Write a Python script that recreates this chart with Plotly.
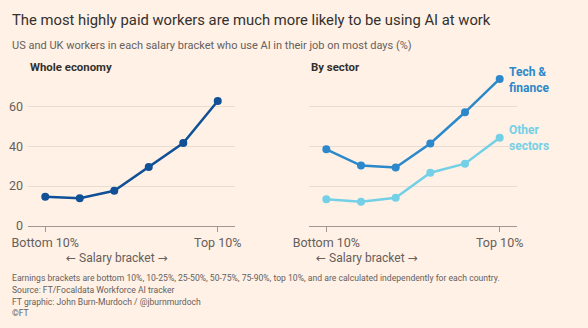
import plotly.graph_objects as go

# Salary brackets, bottom to top
brackets = ["Bottom 10%", "10-25%", "25-50%", "50-75%", "75-90%", "Top 10%"]
tick_labels = ["Bottom 10%", "Top 10%"]

# Share of workers using AI on most days (%)
whole_economy = [14.6, 13.9, 17.6, 29.6, 41.7, 62.9]
tech_finance = [38.5, 30.3, 29.3, 41.5, 57.2, 74.0]
other_sectors = [13.3, 12.1, 14.1, 26.7, 31.3, 44.4]

BG = "#FFF1E5"
DARK = "#0F5096"
TECH = "#2B88CA"
OTHER = "#74D0E6"
GREY = "#66605C"
INK = "#33302E"
FONT = "Roboto"

W, H = 588, 328

def px(x):
    return x / W

def py(y):
    return 1 - y / H

fig = go.Figure()

xs = list(range(len(brackets)))

fig.add_trace(go.Scatter(x=xs, y=whole_economy, mode="lines+markers",
                         line=dict(color=DARK, width=2.5),
                         marker=dict(size=8, color=DARK),
                         xaxis="x", yaxis="y", cliponaxis=False,
                         showlegend=False, hoverinfo="skip"))
fig.add_trace(go.Scatter(x=xs, y=tech_finance, mode="lines+markers",
                         line=dict(color=TECH, width=2.5),
                         marker=dict(size=8, color=TECH),
                         xaxis="x2", yaxis="y2", cliponaxis=False,
                         showlegend=False, hoverinfo="skip"))
fig.add_trace(go.Scatter(x=xs, y=other_sectors, mode="lines+markers",
                         line=dict(color=OTHER, width=2.5),
                         marker=dict(size=8, color=OTHER),
                         xaxis="x2", yaxis="y2", cliponaxis=False,
                         showlegend=False, hoverinfo="skip"))

y_bottom = py(225.7)
y_top = py(75)
yrange = [0, 76]

xaxis_common = dict(
    range=[-0.5, 5.5], showgrid=False, zeroline=False,
    showline=True, linecolor="#A09890", linewidth=1,
    tickmode="array", tickvals=[0, 5], ticktext=tick_labels,
    ticks="outside", ticklen=5, tickcolor="#A09890",
    tickfont=dict(family=FONT, size=12.5, color=GREY),
    fixedrange=True, automargin=False,
)
yaxis_common = dict(
    range=yrange, tickvals=[0, 20, 40, 60],
    showgrid=True, gridcolor="#E9DCD1", gridwidth=1,
    zeroline=False, showline=False, ticks="",
    tickfont=dict(family=FONT, size=12.5, color=GREY),
    domain=[y_bottom, y_top], fixedrange=True, automargin=False,
)

fig.update_layout(
    width=W, height=H,
    margin=dict(l=0, r=0, t=0, b=0),
    paper_bgcolor=BG, plot_bgcolor=BG,
    xaxis=dict(domain=[px(28), px(235)], anchor="y", **xaxis_common),
    yaxis=dict(anchor="x", showticklabels=True, ticklabelstandoff=4, **yaxis_common),
    xaxis2=dict(domain=[px(309), px(517)], anchor="y2", **xaxis_common),
    yaxis2=dict(anchor="x2", showticklabels=False, **yaxis_common),
)

def text(x, y, s, size, color, xanchor="left", bold=False):
    fig.add_annotation(
        x=px(x), y=py(y), xref="paper", yref="paper",
        text=f"<b>{s}</b>" if bold else s, showarrow=False,
        xanchor=xanchor, yanchor="middle",
        font=dict(family=FONT, size=size, color=color), align="left",
    )

text(10, 20, "The most highly paid workers are much more likely to be using AI at work", 14.8, INK)
text(10, 45, "US and UK workers in each salary bracket who use AI in their job on most days (%)", 11, GREY)

text(28, 67, "Whole economy", 11.4, INK, bold=True)
text(309, 67, "By sector", 11.4, INK, bold=True)

ARROW = '<span style="font-family:DejaVu Sans">{}</span>'
axis_title = ARROW.format("\u2190") + " Salary bracket " + ARROW.format("\u2192")
text(116.7, 258, axis_title, 12, GREY, xanchor="center")
text(366.7, 258, axis_title, 12, GREY, xanchor="center")

fig.add_annotation(x=px(507), y=py(80), xref="paper", yref="paper",
                   text="<b>Tech &amp;<br>finance</b>", showarrow=False,
                   xanchor="left", yanchor="middle", align="left",
                   font=dict(family=FONT, size=12, color=TECH))
fig.add_annotation(x=px(507), y=py(138), xref="paper", yref="paper",
                   text="<b>Other<br>sectors</b>", showarrow=False,
                   xanchor="left", yanchor="middle", align="left",
                   font=dict(family=FONT, size=12, color=OTHER))

footer = [
    "Earnings brackets are bottom 10%, 10-25%, 25-50%, 50-75%, 75-90%, top 10%, and are calculated independently for each country.",
    "Source: FT/Focaldata Workforce AI tracker",
    "FT graphic: John Burn-Murdoch / @jburnmurdoch",
    "\u00a9FT",
]
for i, line in enumerate(footer):
    text(10, 278.3 + 11.7 * i, line, 8.6, GREY)

fig.write_html("out.html")
